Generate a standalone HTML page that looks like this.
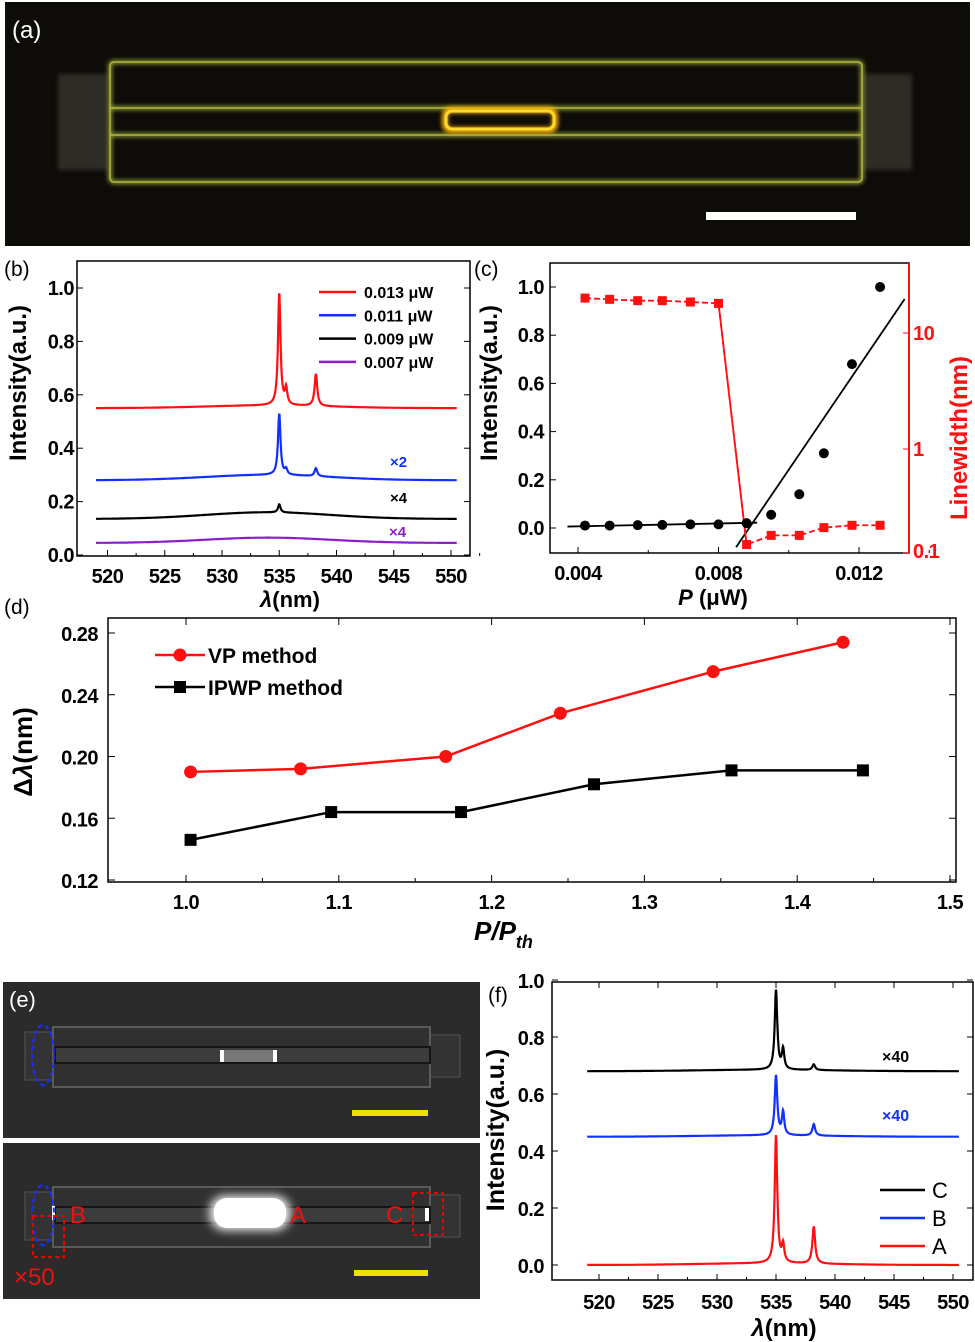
<!DOCTYPE html>
<html><head><meta charset="utf-8">
<style>
html,body{margin:0;padding:0;background:#fff;}
svg{display:block;font-family:"Liberation Sans",Arial,sans-serif;}
.tk{font-size:20px;font-weight:bold;letter-spacing:-0.5px;}
.ttl{font-weight:bold;}
</style></head>
<body>
<svg id="fig" width="975" height="1342" viewBox="0 0 975 1342">
<defs>
<filter id="glow" x="-50%" y="-50%" width="200%" height="200%"><feGaussianBlur stdDeviation="2"/></filter>
<filter id="glow2" x="-50%" y="-50%" width="200%" height="200%"><feGaussianBlur stdDeviation="5"/></filter>
</defs>
<!-- Panel a -->
<g>
<rect x="5" y="2" width="965" height="244" fill="#0e0c08"/>
<rect x="58" y="74" width="50" height="96" fill="#3a3b30" opacity="0.7" filter="url(#glow)"/>
<rect x="862" y="74" width="50" height="96" fill="#3a3b30" opacity="0.7" filter="url(#glow)"/>
<g fill="none" stroke="#8a9a30" stroke-width="4" filter="url(#glow)">
<rect x="110" y="62" width="752" height="120" rx="4"/>
<line x1="110" y1="108" x2="862" y2="108"/>
<line x1="110" y1="135" x2="862" y2="135"/>
</g>
<g fill="none" stroke="#b4b440" stroke-width="1.5">
<rect x="110" y="62" width="752" height="120" rx="4"/>
<line x1="110" y1="108" x2="862" y2="108"/>
<line x1="110" y1="135" x2="862" y2="135"/>
</g>
<rect x="445" y="110" width="110" height="20" rx="6" fill="none" stroke="#ffb000" stroke-width="6" filter="url(#glow)"/>
<rect x="446" y="111" width="108" height="18" rx="6" fill="none" stroke="#ffd830" stroke-width="3"/>
<rect x="706" y="212" width="150" height="8" fill="#fff"/>
<text x="12" y="38" fill="#fff" font-size="24">(a)</text>
</g>
<g id="pb"></g>
<g id="pc"></g>
<g id="pd"></g>
<!-- Panel e -->
<g>
<rect x="3" y="982" width="477" height="156" fill="#2b2b2b"/>
<rect x="3" y="1143" width="477" height="156" fill="#2b2b2b"/>
<g>
<rect x="25" y="1032" width="30" height="48" fill="#333" stroke="#555"/>
<rect x="430" y="1035" width="30" height="42" fill="#333" stroke="#555"/>
<rect x="53" y="1027" width="377" height="60" fill="#303030" stroke="#5a5a5a" stroke-width="2"/>
<rect x="55" y="1047" width="375" height="16" fill="#3c3c3c" stroke="#161616" stroke-width="2"/>
<rect x="222" y="1050" width="53" height="12" fill="#777"/>
<rect x="220" y="1050" width="4" height="12" fill="#fff"/><rect x="273" y="1050" width="4" height="12" fill="#fff"/>
<ellipse cx="43" cy="1055" rx="11" ry="30" fill="none" stroke="#1a2cff" stroke-width="2" stroke-dasharray="5,3"/>
<rect x="352" y="1110" width="76" height="6" fill="#f0e000"/>
<text x="9" y="1007" fill="#fff" font-size="22">(e)</text>
</g>
<g>
<rect x="25" y="1192" width="30" height="48" fill="#333" stroke="#555"/>
<rect x="430" y="1195" width="30" height="42" fill="#333" stroke="#555"/>
<rect x="53" y="1187" width="377" height="60" fill="#303030" stroke="#5a5a5a" stroke-width="2"/>
<rect x="55" y="1207" width="375" height="16" fill="#3c3c3c" stroke="#161616" stroke-width="2"/>
<rect x="210" y="1196" width="80" height="34" rx="15" fill="#fff" filter="url(#glow2)"/>
<rect x="214" y="1198" width="72" height="30" rx="13" fill="#fff"/>
<rect x="52" y="1206" width="3" height="14" fill="#fff"/>
<rect x="425" y="1208" width="4" height="13" fill="#fff"/>
<ellipse cx="43" cy="1215" rx="11" ry="30" fill="none" stroke="#1a2cff" stroke-width="2" stroke-dasharray="5,3"/>
<rect x="33" y="1216" width="31" height="41" fill="none" stroke="#e00" stroke-width="2" stroke-dasharray="4,3"/>
<rect x="413" y="1193" width="30" height="42" fill="none" stroke="#e00" stroke-width="2" stroke-dasharray="4,3"/>
<g fill="#f01010" font-size="24">
<text x="70" y="1223">B</text><text x="290" y="1223">A</text><text x="386" y="1223">C</text>
<text x="14" y="1285">×50</text></g>
<rect x="354" y="1270" width="74" height="6" fill="#f0e000"/>
</g>
</g>
<g id="pf"></g>
</svg>
<script>
const NS='http://www.w3.org/2000/svg';
function mk(parent,tag,attrs,text){const e=document.createElementNS(NS,tag);for(const k in attrs)e.setAttribute(k,attrs[k]);if(text!==undefined)e.textContent=text;parent.appendChild(e);return e;}

// ---------- Panel b data ----------
const bTicksX=[520,525,530,535,540,545,550];
const bTicksY=[0.0,0.2,0.4,0.6,0.8,1.0];
const bLabels=['0.013 μW','0.011 μW','0.009 μW','0.007 μW'];
const bColors=['#ff1010','#1030ff','#000000','#8a1fc8'];
const bBase=[0.55,0.28,0.135,0.045];
const bHump=[0.01,0.02,0.025,0.02];
const bPeak535=[0.42,0.23,0.03,0];
const bPeak5356=[0.06,0.02,0,0];
const bPeak538=[0.12,0.03,0,0];
// ---------- Panel f data ----------
const fTicksX=[520,525,530,535,540,545,550];
const fTicksY=[0.0,0.2,0.4,0.6,0.8,1.0];
const fLabels=['C','B','A'];
const fColors=['#000000','#1030ff','#ff1010'];
const fBase=[0.68,0.45,0.0];
const fPeak535=[0.28,0.21,0.45];
const fPeak5356=[0.07,0.08,0.06];
const fPeak538=[0.02,0.04,0.13];
// ---------- Panel c data ----------
const cP=[0.0042,0.0049,0.0057,0.0064,0.0072,0.0080,0.0088,0.0095,0.0103,0.0110,0.0118,0.0126];
const cIntensity=[0.010,0.010,0.012,0.013,0.015,0.015,0.020,0.055,0.140,0.310,0.680,1.000];
const cLinewidth=[20,19.5,19,19,18.5,18,0.15,0.18,0.18,0.21,0.22,0.22];
const cTicksX=[0.004,0.008,0.012];
const cTicksY=[0.0,0.2,0.4,0.6,0.8,1.0];
const cTicksR=[0.1,1,10];
const cFitLow=[[0.0037,0.006],[0.0091,0.022]];
const cFitHigh=[[0.0085,-0.08],[0.0133,0.95]];
// ---------- Panel d data ----------
const dVPx=[1.003,1.075,1.170,1.245,1.345,1.430];
const dVPy=[0.190,0.192,0.200,0.228,0.255,0.274];
const dIPx=[1.003,1.095,1.180,1.267,1.357,1.443];
const dIPy=[0.146,0.164,0.164,0.182,0.191,0.191];
const dTicksX=[1.0,1.1,1.2,1.3,1.4,1.5];
const dTicksY=[0.12,0.16,0.20,0.24,0.28];

function lin(d0,d1,r0,r1){return v=>r0+(v-d0)*(r1-r0)/(d1-d0);}
function lor(x,c,w){return 1/(1+((x-c)/w)*((x-c)/w));}
function spectrum(base,hump,p1,p2,p3,x){
  return base+hump*Math.exp(-((x-534)*(x-534))/60)+p1*lor(x,535,0.13)+p2*lor(x,535.6,0.12)+p3*lor(x,538.2,0.14);
}
function drawSpectra(g,X,Y,base,hump,p1,p2,p3,colors,xmin,xmax){
  for(let i=0;i<base.length;i++){
    let d='';
    for(let x=xmin;x<=xmax;x+=0.03){
      const y=spectrum(base[i],hump[i],p1[i],p2[i],p3[i],x);
      d+=(d?'L':'M')+X(x).toFixed(1)+','+Y(y).toFixed(1);
    }
    const p=mk(g,'path',{d:d,fill:'none',stroke:colors[i],'stroke-width':2.2});
    
    
  }
}
function axesBox(g,l,t,r,b){
  const a=mk(g,'rect',{x:l,y:t,width:r-l,height:b-t,fill:'none',stroke:'#000','stroke-width':1.5});
  
  
}

// ===== Panel b =====
(function(){
  const g=document.getElementById('pb');
  const L=77,T=261,R=470,B=556;
  const X=lin(520,550,107.5,451), Y=lin(0,1,555,288);
  axesBox(g,L,T,R,B);
  bTicksX.forEach(v=>{mk(g,'line',{x1:X(v),y1:B,x2:X(v),y2:B-6,stroke:'#000'});mk(g,'line',{x1:X(v+2.5),y1:B,x2:X(v+2.5),y2:B-3,stroke:'#000'});
    const t=mk(g,'text',{x:X(v),y:B+27,'text-anchor':'middle',class:'tk'},v);});
  bTicksY.forEach(v=>{mk(g,'line',{x1:L,y1:Y(v),x2:L+6,y2:Y(v),stroke:'#000'});mk(g,'line',{x1:R,y1:Y(v),x2:R-6,y2:Y(v),stroke:'#000'});
    const t=mk(g,'text',{x:L-3,y:Y(v)+7,'text-anchor':'end',class:'tk'},v.toFixed(1));});
  drawSpectra(g,X,Y,bBase,bHump,bPeak535,bPeak5356,bPeak538,bColors,519,550.5);
  bLabels.forEach((s,i)=>{const y=292+i*23.3;
    mk(g,'line',{x1:319,y1:y,x2:356,y2:y,stroke:bColors[i],'stroke-width':2.5});
    const t=mk(g,'text',{x:364,y:y+6,'font-size':16,'font-weight':'bold'},s);});
  mk(g,'text',{x:390,y:467,fill:'#1030ff','font-size':15,'font-weight':'bold'},'×2');
  mk(g,'text',{x:390,y:503,fill:'#000','font-size':15,'font-weight':'bold'},'×4');
  mk(g,'text',{x:389,y:537,fill:'#8a1fc8','font-size':15,'font-weight':'bold'},'×4');
  const yt=mk(g,'text',{x:0,y:0,'font-size':24,class:'ttl','text-anchor':'middle',transform:'translate(26,383) rotate(-90)'},'Intensity(a.u.)');
  
  const xt=mk(g,'text',{x:290,y:607,'font-size':22,class:'ttl','text-anchor':'middle'},'');
  mk(xt,'tspan',{'font-style':'italic'},'λ');mk(xt,'tspan',{},'(nm)');
  
  mk(g,'text',{x:4,y:276,'font-size':21},'(b)');
})();

// ===== Panel c =====
(function(){
  const g=document.getElementById('pc');
  const L=550,T=263,R=909,B=553;
  const X=lin(0.004,0.012,578,859), Y=lin(0,1,528,287);
  const YR=v=>449-116*Math.log10(v);
  axesBox(g,L,T,R,B);
  mk(g,'line',{x1:R,y1:T,x2:R,y2:B,stroke:'#ff1010','stroke-width':2});
  cTicksX.forEach(v=>{mk(g,'line',{x1:X(v),y1:B,x2:X(v),y2:B-6,stroke:'#000'});mk(g,'line',{x1:X(v+0.002),y1:B,x2:X(v+0.002),y2:B-3,stroke:'#000'});
    const t=mk(g,'text',{x:X(v),y:B+27,'text-anchor':'middle',class:'tk'},v.toFixed(3));});
  cTicksY.forEach(v=>{mk(g,'line',{x1:L,y1:Y(v),x2:L+6,y2:Y(v),stroke:'#000'});
    const t=mk(g,'text',{x:L-6,y:Y(v)+7,'text-anchor':'end',class:'tk'},v.toFixed(1));});
  cTicksR.forEach(v=>{const yy=Math.min(YR(v),B);
    mk(g,'line',{x1:R,y1:yy,x2:R-6,y2:yy,stroke:'#ff1010'});
    const t=mk(g,'text',{x:R+4,y:Math.min(YR(v)+7,558),fill:'#ff1010',class:'tk'},String(v));});
  [cFitLow,cFitHigh].forEach(f=>{const l=mk(g,'line',{x1:X(f[0][0]),y1:Y(f[0][1]),x2:X(f[1][0]),y2:Y(f[1][1]),stroke:'#000','stroke-width':1.8});
    });
  let d='';
  cP.forEach((p,i)=>{d+=(i?'L':'M')+X(p)+','+YR(cLinewidth[i]);});
  const path=mk(g,'path',{d:d,fill:'none',stroke:'#ff1010','stroke-width':1.8,'stroke-dasharray':'6,3'});
  
  mk(g,'line',{x1:X(cP[5]),y1:YR(cLinewidth[5]),x2:X(cP[6]),y2:YR(cLinewidth[6]),stroke:'#ff1010','stroke-width':1.8});
  cP.forEach((p,i)=>{
    const s=mk(g,'rect',{x:X(p)-4.5,y:YR(cLinewidth[i])-4.5,width:9,height:9,fill:'#ff1010'});
    
    const c=mk(g,'circle',{cx:X(p),cy:Y(cIntensity[i]),r:5,fill:'#000'});
    
  });
  const yt=mk(g,'text',{x:0,y:0,'font-size':24,class:'ttl','text-anchor':'middle',transform:'translate(497,383) rotate(-90)'},'Intensity(a.u.)');
  
  const rt=mk(g,'text',{x:0,y:0,'font-size':24,class:'ttl',fill:'#ff1010','text-anchor':'middle',transform:'translate(967,438) rotate(-90)'},'Linewidth(nm)');
  
  const xt=mk(g,'text',{x:713,y:605,'font-size':22,class:'ttl','text-anchor':'middle'},'');
  mk(xt,'tspan',{'font-style':'italic'},'P');mk(xt,'tspan',{},' (μW)');
  
  mk(g,'text',{x:474,y:276,'font-size':21},'(c)');
})();

// ===== Panel d =====
(function(){
  const g=document.getElementById('pd');
  const L=108,T=618,R=956,B=882;
  const X=lin(1.0,1.5,186,950), Y=lin(0.12,0.28,880,633);
  axesBox(g,L,T,R,B);
  dTicksX.forEach(v=>{mk(g,'line',{x1:X(v),y1:B,x2:X(v),y2:B-7,stroke:'#000'});mk(g,'line',{x1:X(v),y1:T,x2:X(v),y2:T+7,stroke:'#000'});
    if(v<1.5){mk(g,'line',{x1:X(v+0.05),y1:B,x2:X(v+0.05),y2:B-4,stroke:'#000'});}
    const t=mk(g,'text',{x:X(v),y:B+27,'text-anchor':'middle',class:'tk','font-size':22},v.toFixed(1));});
  dTicksY.forEach(v=>{mk(g,'line',{x1:L,y1:Y(v),x2:L+7,y2:Y(v),stroke:'#000'});mk(g,'line',{x1:R,y1:Y(v),x2:R-7,y2:Y(v),stroke:'#000'});
    const t=mk(g,'text',{x:L-10,y:Y(v)+8,'text-anchor':'end',class:'tk','font-size':22},v.toFixed(2));});
  function series(xs,ys,col,shape,name){
    let d='';xs.forEach((x,i)=>{d+=(i?'L':'M')+X(x)+','+Y(ys[i]);});
    const p=mk(g,'path',{d:d,fill:'none',stroke:col,'stroke-width':2.5});
    
    xs.forEach((x,i)=>{let m;
      if(shape==='c')m=mk(g,'circle',{cx:X(x),cy:Y(ys[i]),r:6.5,fill:col});
      else m=mk(g,'rect',{x:X(x)-6,y:Y(ys[i])-6,width:12,height:12,fill:col});
      });
  }
  series(dVPx,dVPy,'#ff1010','c','vp-method');
  series(dIPx,dIPy,'#000','s','ipwp-method');
  mk(g,'line',{x1:155,y1:655,x2:205,y2:655,stroke:'#ff1010','stroke-width':2.5});
  mk(g,'circle',{cx:180,cy:655,r:6.5,fill:'#ff1010'});
  const l1=mk(g,'text',{x:208,y:663,'font-size':21,'font-weight':'bold'},'VP method');
  mk(g,'line',{x1:155,y1:687,x2:205,y2:687,stroke:'#000','stroke-width':2.5});
  mk(g,'rect',{x:174,y:681,width:12,height:12,fill:'#000'});
  const l2=mk(g,'text',{x:208,y:695,'font-size':21,'font-weight':'bold'},'IPWP method');
  const yt=mk(g,'text',{x:0,y:0,'font-size':26,class:'ttl','text-anchor':'middle',transform:'translate(32,752) rotate(-90)'},'');
  mk(yt,'tspan',{},'Δ');mk(yt,'tspan',{'font-style':'italic'},'λ');mk(yt,'tspan',{},'(nm)');
  
  const xt=mk(g,'text',{x:474,y:940,'font-size':26,class:'ttl','font-style':'italic'},'P/P');
  mk(xt,'tspan',{'font-size':18,dy:8},'th');
  
  mk(g,'text',{x:4,y:614,'font-size':21},'(d)');
})();

// ===== Panel f =====
(function(){
  const g=document.getElementById('pf');
  const L=552,T=982,R=973,B=1280;
  const X=lin(520,550,599,953), Y=lin(0,1,1265,980);
  axesBox(g,L,T,R,B);
  fTicksX.forEach(v=>{mk(g,'line',{x1:X(v),y1:B,x2:X(v),y2:B-6,stroke:'#000'});mk(g,'line',{x1:X(v),y1:T,x2:X(v),y2:T+6,stroke:'#000'});
    mk(g,'line',{x1:X(v+2.5),y1:B,x2:X(v+2.5),y2:B-3,stroke:'#000'});
    const t=mk(g,'text',{x:X(v),y:B+29,'text-anchor':'middle',class:'tk','font-size':21},v);});
  fTicksY.forEach(v=>{mk(g,'line',{x1:L,y1:Y(v),x2:L+6,y2:Y(v),stroke:'#000'});mk(g,'line',{x1:R,y1:Y(v),x2:R-6,y2:Y(v),stroke:'#000'});
    const t=mk(g,'text',{x:L-8,y:Y(v)+8,'text-anchor':'end',class:'tk','font-size':21},v.toFixed(1));});
  drawSpectra(g,X,Y,fBase,[0.005,0.005,0.006],fPeak535,fPeak5356,fPeak538,fColors,519,550.5);
  fLabels.forEach((s,i)=>{const y=1190+i*28;
    mk(g,'line',{x1:880,y1:y,x2:925,y2:y,stroke:fColors[i],'stroke-width':2.5});
    const t=mk(g,'text',{x:932,y:y+8,'font-size':22},s);});
  mk(g,'text',{x:882,y:1062,'font-size':16,'font-weight':'bold'},'×40');
  mk(g,'text',{x:882,y:1121,'font-size':16,'font-weight':'bold',fill:'#1030ff'},'×40');
  const yt=mk(g,'text',{x:0,y:0,'font-size':25,class:'ttl','text-anchor':'middle',transform:'translate(504,1130) rotate(-90)'},'Intensity(a.u.)');
  
  const xt=mk(g,'text',{x:784,y:1336,'font-size':24,class:'ttl','text-anchor':'middle'},'');
  mk(xt,'tspan',{'font-style':'italic'},'λ');mk(xt,'tspan',{},'(nm)');
  
  mk(g,'text',{x:488,y:1002,'font-size':21},'(f)');
})();
</script>
</body></html>
